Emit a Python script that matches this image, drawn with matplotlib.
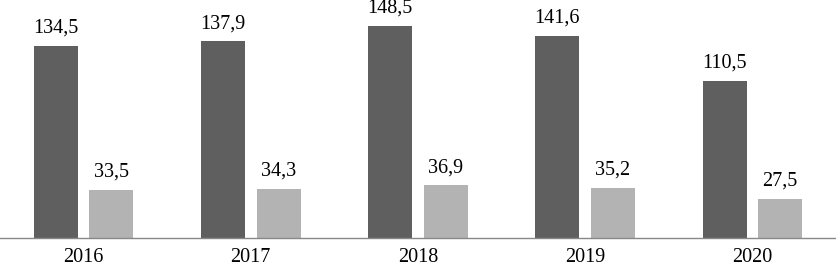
import numpy as np
import matplotlib
matplotlib.use('Agg')
import matplotlib.pyplot as plt

years = ['2016', '2017', '2018', '2019', '2020']
series_a = [134.5, 137.9, 148.5, 141.6, 110.5]
series_b = [33.5, 34.3, 36.9, 35.2, 27.5]

plt.rcParams['font.family'] = ['Liberation Serif', 'DejaVu Serif']

fig = plt.figure(figsize=(8.36, 2.67), dpi=100)
ax = fig.add_axes([0, 0.1086, 1, 0.8914])

x = np.arange(len(years))
w = 0.263
off = 0.166
bars_a = ax.bar(x - off, series_a, w, color='#5f5f5f')
bars_b = ax.bar(x + off, series_b, w, color='#b3b3b3')

for bars, vals in ((bars_a, series_a), (bars_b, series_b)):
    for b, v in zip(bars, vals):
        ax.annotate(f'{v:.1f}'.replace('.', ','),
                    (b.get_x() + b.get_width() / 2, v),
                    xytext=(0, 6), textcoords='offset points',
                    ha='center', va='bottom', fontsize=14.5)

ax.set_xlim(-0.5, len(years) - 0.5)
ax.set_ylim(0, 167)
ax.set_xticks(x)
ax.set_xticklabels(years, fontsize=14.5)
ax.tick_params(axis='x', length=0, pad=7.5)
ax.set_yticks([])
for s in ('top', 'right', 'left'):
    ax.spines[s].set_visible(False)
ax.spines['bottom'].set_color('#888888')
ax.spines['bottom'].set_linewidth(1)

fig.savefig('out.png', dpi=100)
